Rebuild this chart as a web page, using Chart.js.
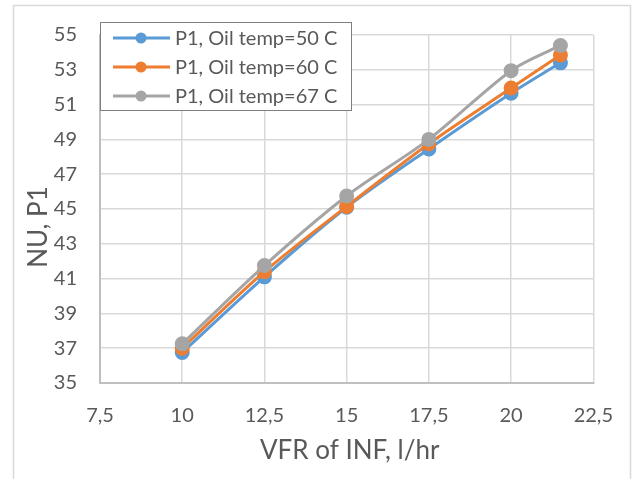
<!DOCTYPE html>
<html>
<head>
<meta charset="utf-8">
<script src="https://cdn.jsdelivr.net/npm/chart.js@4.4.0/dist/chart.umd.min.js"></script>
<style>
    html, body { margin: 0; padding: 0; background: #fff; }
    #wrap { width: 634px; height: 479px; position: relative; }
</style>
</head>
<body>
<div id="wrap"><canvas id="chart"></canvas></div>
<script>
var xValues = [10, 12.5, 15, 17.5, 20, 21.5];
var oil50 = [36.75, 41.1, 45.1, 48.45, 51.65, 53.4];
var oil60 = [37.0, 41.4, 45.15, 48.75, 51.95, 53.85];
var oil67 = [37.25, 41.75, 45.75, 49.0, 52.95, 54.4];
var seriesNames = ['P1, Oil temp=50 C', 'P1, Oil temp=60 C', 'P1, Oil temp=67 C'];
var seriesColors = ['#5b9bd5', '#ed7d31', '#a5a5a5'];
var xTitle = 'VFR of INF, l/hr';
var yTitle = 'NU, P1';

var fontFamily = 'Lato, "Open Sans", sans-serif';
var textColor = '#595959';

function toPoints(values) {
    var pts = [];
    for (var i = 0; i < xValues.length; i++) {
        pts.push({ x: xValues[i], y: values[i] });
    }
    return pts;
}

// frame, axis titles and the boxed legend inside the plot
var excelLook = {
    id: 'excelLook',
    beforeDraw: function (chart) {
        var ctx = chart.ctx;
        ctx.save();
        ctx.fillStyle = '#fff';
        ctx.fillRect(0, 0, chart.width, chart.height);
        ctx.strokeStyle = '#d9d9d9';
        ctx.lineWidth = 1.5;
        ctx.beginPath();
        ctx.moveTo(13.5, 479);
        ctx.lineTo(13.5, 5.5);
        ctx.lineTo(630.5, 5.5);
        ctx.lineTo(630.5, 479);
        ctx.stroke();
        ctx.restore();
    },
    afterDraw: function (chart) {
        var ctx = chart.ctx;
        var area = chart.chartArea;
        ctx.save();
        ctx.fillStyle = textColor;
        ctx.font = '26px ' + fontFamily;
        ctx.textAlign = 'center';
        ctx.textBaseline = 'middle';
        ctx.fillText(xTitle, (area.left + area.right) / 2 + 3, 451);
        ctx.translate(39, 227);
        ctx.rotate(-Math.PI / 2);
        ctx.fillText(yTitle, 0, 0);
        ctx.restore();

        // legend
        var bx = 100.5, by = 22.5, bw = 251, bh = 88;
        ctx.save();
        ctx.fillStyle = '#fff';
        ctx.fillRect(bx, by, bw, bh);
        ctx.strokeStyle = '#7f7f7f';
        ctx.lineWidth = 1;
        ctx.strokeRect(bx, by, bw, bh);
        ctx.font = '20px ' + fontFamily;
        ctx.textAlign = 'left';
        ctx.textBaseline = 'middle';
        var ds = chart.data.datasets;
        for (var i = 0; i < ds.length; i++) {
            var y = 38 + i * 29;
            ctx.strokeStyle = ds[i].borderColor;
            ctx.lineWidth = 3;
            ctx.beginPath();
            ctx.moveTo(113, y);
            ctx.lineTo(170, y);
            ctx.stroke();
            ctx.fillStyle = ds[i].backgroundColor;
            ctx.beginPath();
            ctx.arc(141, y, 5.5, 0, Math.PI * 2);
            ctx.fill();
            ctx.fillStyle = textColor;
            ctx.fillText(ds[i].label, 175, y + 1);
        }
        ctx.restore();
    }
};

var allSeries = [oil50, oil60, oil67];
var datasets = [];
for (var s = 0; s < allSeries.length; s++) {
    datasets.push({
        label: seriesNames[s],
        data: toPoints(allSeries[s]),
        borderColor: seriesColors[s],
        backgroundColor: seriesColors[s],
        borderWidth: 3,
        pointRadius: 6,
        pointHoverRadius: 6,
        tension: 0.3,
        order: allSeries.length - s
    });
}

new Chart(document.getElementById('chart'), {
    type: 'line',
    data: { datasets: datasets },
    options: {
        responsive: true,
        maintainAspectRatio: false,
        animation: false,
        layout: { padding: { top: 22, right: 40, left: 0, bottom: 0 } },
        plugins: {
            legend: { display: false },
            tooltip: { enabled: false }
        },
        scales: {
            x: {
                type: 'linear',
                min: 7.5,
                max: 22.5,
                afterFit: function (scale) { scale.height = 96; },
                grid: { color: '#d9d9d9', lineWidth: 1.5, drawTicks: false },
                border: { color: '#bfbfbf', width: 2 },
                ticks: {
                    stepSize: 2.5,
                    padding: 21,
                    color: textColor,
                    font: { family: fontFamily, size: 20 },
                    maxRotation: 0,
                    callback: function (v) { return String(v).replace('.', ','); }
                }
            },
            y: {
                min: 35,
                max: 55,
                afterFit: function (scale) { scale.width = 100; },
                grid: { color: '#d9d9d9', lineWidth: 1.5, drawTicks: false },
                border: { color: '#bfbfbf', width: 2 },
                ticks: {
                    stepSize: 2,
                    padding: 23,
                    color: textColor,
                    font: { family: fontFamily, size: 20 }
                }
            }
        }
    },
    plugins: [excelLook]
});
</script>
</body>
</html>
